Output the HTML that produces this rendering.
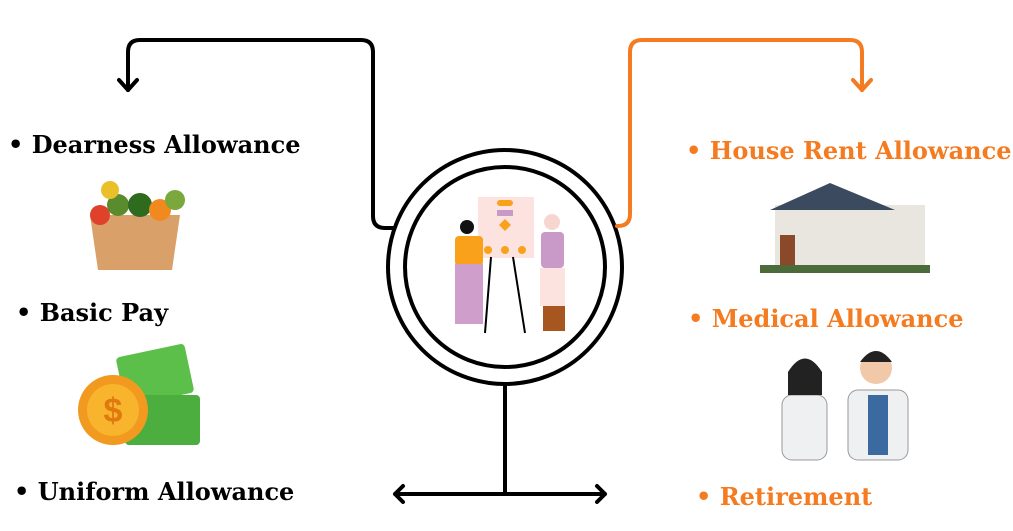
<!DOCTYPE html>
<html><head><meta charset="utf-8"><style>
body{margin:0;width:1013px;height:531px;background:#fff;position:relative;overflow:hidden;font-family:"DejaVu Serif","Liberation Serif",serif;font-weight:bold}
.t{position:absolute;font-size:24px;line-height:30px;white-space:nowrap}
.o{color:#f47b20}
</style></head><body>
<svg width="1013" height="531" style="position:absolute;left:0;top:0">
<g fill="none" stroke="#000" stroke-width="4" stroke-linecap="round" stroke-linejoin="round">
<path d="M393 228 H385 Q373 228 373 216 V52 Q373 40 361 40 H140 Q128 40 128 52 V90"/>
<path d="M119 80 L128 90 L137 80"/>
<circle cx="505" cy="267" r="117"/>
<circle cx="505" cy="267" r="100"/>
<path d="M505 384 V494 M395 494 H605 M403 486 L395 494 L403 502 M597 486 L605 494 L597 502"/>
</g>
<g fill="none" stroke="#f47b20" stroke-width="4" stroke-linecap="round" stroke-linejoin="round">
<path d="M617 226 H618 Q630 226 630 214 V52 Q630 40 642 40 H850 Q862 40 862 52 V90"/>
<path d="M853 80 L862 90 L871 80"/>
</g>
<rect x="478" y="197" width="56" height="61" fill="#fde3df"/>
<rect x="497" y="200" width="16" height="6" rx="3" fill="#f9a11b"/>
<rect x="497" y="210" width="16" height="6" fill="#c99ac8"/>
<path d="M505 219 L511 225 L505 231 L499 225Z" fill="#f9a11b"/>
<circle cx="488" cy="250" r="4" fill="#f9a11b"/><circle cx="505" cy="250" r="4" fill="#f9a11b"/><circle cx="522" cy="250" r="4" fill="#f9a11b"/>
<path d="M491 257 L485 333 M513 257 L525 333" stroke="#000" stroke-width="2"/>
<circle cx="467" cy="227" r="7" fill="#111"/>
<rect x="455" y="236" width="28" height="30" rx="4" fill="#f9a11b"/>
<rect x="455" y="264" width="28" height="60" fill="#d09ecb"/>
<circle cx="552" cy="222" r="8" fill="#f7d6d0"/>
<rect x="541" y="232" width="23" height="36" rx="4" fill="#c99ac8"/>
<rect x="540" y="268" width="25" height="38" fill="#fde3df"/>
<rect x="543" y="306" width="22" height="25" fill="#a8561f"/>
<path d="M90 215 H180 L172 270 H98Z" fill="#d9a06a"/>
<circle cx="100" cy="215" r="10" fill="#e0412b"/><circle cx="118" cy="205" r="11" fill="#5a8c2e"/><circle cx="140" cy="205" r="12" fill="#2e6b1e"/><circle cx="160" cy="210" r="11" fill="#f08a1e"/><circle cx="110" cy="190" r="9" fill="#e9c02a"/><circle cx="175" cy="200" r="10" fill="#7aa83c"/>
<rect x="120" y="350" width="70" height="50" rx="4" fill="#5bbf4a" transform="rotate(-12 155 375)"/>
<rect x="125" y="395" width="75" height="50" rx="4" fill="#4cae3e"/>
<circle cx="113" cy="410" r="35" fill="#f29a1f"/><circle cx="113" cy="410" r="26" fill="#f7b42c"/>
<text x="113" y="422" font-size="34" text-anchor="middle" fill="#e07a10" font-family="Liberation Sans">$</text>
<rect x="775" y="205" width="150" height="65" fill="#e9e6df"/>
<path d="M770 210 L830 183 L895 210Z" fill="#3b4a5e"/>
<rect x="780" y="235" width="15" height="35" fill="#8a4a2a"/>
<rect x="760" y="265" width="170" height="8" fill="#4b6b3a"/>
<rect x="782" y="395" width="45" height="65" rx="10" fill="#eef0f2" stroke="#999"/>
<circle cx="805" cy="375" r="15" fill="#f1c9a9"/><path d="M788 372 Q805 345 822 372 V395 H788Z" fill="#222"/>
<rect x="848" y="390" width="60" height="70" rx="10" fill="#eef0f2" stroke="#999"/>
<rect x="868" y="395" width="20" height="60" fill="#3a6aa0"/>
<circle cx="876" cy="368" r="16" fill="#f1c9a9"/><path d="M860 362 Q876 340 892 362Z" fill="#222"/>
</svg>
<div class="t" style="left:8px;top:130px">• Dearness Allowance</div>
<div class="t" style="left:16px;top:298px">• Basic Pay</div>
<div class="t" style="left:14px;top:477px">• Uniform Allowance</div>
<div class="t o" style="left:686px;top:136px">• House Rent Allowance</div>
<div class="t o" style="left:688px;top:304px">• Medical Allowance</div>
<div class="t o" style="left:696px;top:482px">• Retirement</div>
</body></html>
